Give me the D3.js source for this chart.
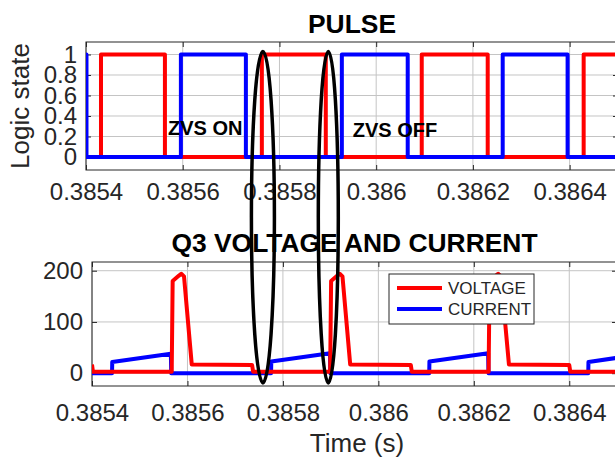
<!DOCTYPE html>
<html>
<head>
<meta charset="utf-8">
<script src="https://cdn.jsdelivr.net/npm/d3@7"></script>
<style>
body { margin: 0; background: #fff; }
text { font-family: "Liberation Sans", Arial, sans-serif; }
</style>
</head>
<body>
<div id="chart"></div>
<script>
/* tick values shared by both panels */
var timeTicks = [0.3854, 0.3856, 0.3858, 0.386, 0.3862, 0.3864];
var timeTickLabels = ["0.3854", "0.3856", "0.3858", "0.386", "0.3862", "0.3864"];
var logicTicks = [0, 0.2, 0.4, 0.6, 0.8, 1];
var logicTickLabels = ["0", "0.2", "0.4", "0.6", "0.8", "1"];
var vcTicks = [0, 100, 200];
var vcTickLabels = ["0", "100", "200"];

/* gate pulses (step after) */
var redPulseTime  = [0.38540, 0.385431, 0.3855632, 0.3857636, 0.3858958, 0.3860942, 0.3862306, 0.386429, 0.3866];
var redPulseState = [0, 1, 0, 1, 0, 1, 0, 1, 1];
var bluePulseTime  = [0.38538, 0.385401, 0.3855962, 0.3857306, 0.385929, 0.3860652, 0.3862616, 0.3863958, 0.3866];
var bluePulseState = [1, 0, 1, 0, 1, 0, 1, 0, 0];

/* Q3 voltage */
var voltTime = [0.38540, 0.385402,
    0.385567, 0.385569, 0.3855816, 0.385587, 0.3855928, 0.385609, 0.3857354, 0.3857376,
    0.385899, 0.385901, 0.3859136, 0.385919, 0.3859248, 0.385941, 0.386068, 0.38607,
    0.386231, 0.386233, 0.3862456, 0.386251, 0.3862568, 0.3862736, 0.3864, 0.386402,
    0.3866];
var voltVal = [17, 3,
    3, 180, 190, 194, 189, 17, 16, 3,
    3, 180, 190, 194, 189, 17, 16, 3,
    3, 180, 190, 194, 189, 17, 16, 3,
    3];

/* Q3 current */
var currTime = [0.38540, 0.385442, 0.3854424, 0.3855652, 0.385566,
    0.3857752, 0.3857756, 0.3858986, 0.3858994,
    0.3861066, 0.386107, 0.38623, 0.3862308,
    0.3864398, 0.3864402, 0.3865];
var currVal = [0, 0, 22, 38, 0,
    0, 23, 39, 0,
    0, 23, 39, 0,
    0, 22, 30];

var legendNames = ["VOLTAGE", "CURRENT"];

/* hand drawn annotations */
var zvsLabels = ["ZVS ON", "ZVS OFF"];
var zvsTime = [0.3855694, 0.3859516];
var zvsLevel = [0.215, 0.195];
var markTime = [0.3857658, 0.385901];
var markTopState = 1.03;   /* top panel value at ellipse top */
var markBottomVal = -19;   /* bottom panel value at ellipse bottom */

/* MAIN PROGRAM */
var width = 615, height = 461;
var textColor = "#262626";
var gridColor = "#c4c4c4";

var svg = d3.select("#chart").append("svg")
    .attr("width", width)
    .attr("height", height);

var panels = [
    { left: 86, right: 618, top: 42, bottom: 170, ydom: [-0.127, 1.122],
      yticks: logicTicks, ylabels: logicTickLabels, labPad: 13, title: "PULSE", titleY: 33 },
    { left: 92, right: 617, top: 262, bottom: 386, ydom: [-25, 217],
      yticks: vcTicks, ylabels: vcTickLabels, labPad: 18, title: "Q3 VOLTAGE AND CURRENT", titleY: 252 }
];

panels.forEach(function (p, k) {
    p.x = d3.scaleLinear().domain([0.3854, 0.3865]).range([p.left, p.right]);
    p.y = d3.scaleLinear().domain(p.ydom).range([p.bottom, p.top]);

    var g = svg.append("g").attr("class", "panel" + k);

    /* grid */
    g.selectAll(".gx").data(timeTicks).enter().append("line")
        .attr("x1", function (d) { return p.x(d); })
        .attr("x2", function (d) { return p.x(d); })
        .attr("y1", p.top).attr("y2", p.bottom)
        .attr("stroke", gridColor).attr("stroke-width", 1);
    g.selectAll(".gy").data(p.yticks).enter().append("line")
        .attr("x1", p.left).attr("x2", p.right)
        .attr("y1", function (d) { return p.y(d); })
        .attr("y2", function (d) { return p.y(d); })
        .attr("stroke", gridColor).attr("stroke-width", 1);

    /* axes, ticks inside */
    g.append("g")
        .attr("transform", "translate(0," + p.bottom + ")")
        .call(d3.axisBottom(p.x).tickValues(timeTicks)
            .tickFormat(function (d, i) { return timeTickLabels[i]; })
            .tickSize(-5).tickSizeOuter(0).tickPadding(p.labPad));
    g.append("g")
        .attr("transform", "translate(0," + p.top + ")")
        .call(d3.axisTop(p.x).tickValues(timeTicks).tickFormat("")
            .tickSize(-5).tickSizeOuter(0));
    g.append("g")
        .attr("transform", "translate(" + p.left + ",0)")
        .call(d3.axisLeft(p.y).tickValues(p.yticks)
            .tickFormat(function (d, i) { return p.ylabels[i]; })
            .tickSize(-5).tickSizeOuter(0).tickPadding(9));
    g.append("g")
        .attr("transform", "translate(" + p.right + ",0)")
        .call(d3.axisRight(p.y).tickValues(p.yticks).tickFormat("")
            .tickSize(-5).tickSizeOuter(0));

    g.selectAll(".domain").remove();
    g.selectAll(".tick line").attr("stroke", textColor);
    g.selectAll(".tick text")
        .attr("fill", textColor)
        .style("font-size", "24px");

    g.append("rect")
        .attr("x", p.left).attr("y", p.top)
        .attr("width", p.right - p.left).attr("height", p.bottom - p.top)
        .attr("fill", "none").attr("stroke", textColor).attr("stroke-width", 1);

    /* title */
    g.append("text")
        .attr("x", (p.left + p.right) / 2)
        .attr("y", p.titleY)
        .attr("text-anchor", "middle")
        .attr("fill", "#000")
        .style("font-size", "26.4px")
        .style("font-weight", "bold")
        .text(p.title);

    /* clip */
    svg.append("clipPath").attr("id", "clip" + k)
        .append("rect")
        .attr("x", p.left).attr("y", p.top)
        .attr("width", p.right - p.left).attr("height", p.bottom - p.top);
    p.plot = g.append("g").attr("clip-path", "url(#clip" + k + ")");
});

var pTop = panels[0], pBot = panels[1];

/* Logic state label */
svg.append("text")
    .attr("transform", "translate(29," + ((pTop.top + pTop.bottom) / 2) + ") rotate(-90)")
    .attr("text-anchor", "middle")
    .attr("fill", textColor)
    .style("font-size", "26px")
    .text("Logic state");

/* Time label */
svg.append("text")
    .attr("x", 357)
    .attr("y", 452)
    .attr("text-anchor", "middle")
    .attr("fill", textColor)
    .style("font-size", "26px")
    .text("Time (s)");

/* pulse traces */
function zip(t, v) { return t.map(function (d, i) { return [d, v[i]]; }); }

var stepLine = d3.line()
    .x(function (d) { return pTop.x(d[0]); })
    .y(function (d) { return pTop.y(d[1]); })
    .curve(d3.curveStepAfter);

pTop.plot.append("path")
    .datum(zip(redPulseTime, redPulseState))
    .attr("d", stepLine)
    .attr("fill", "none").attr("stroke", "#ff0000")
    .attr("stroke-width", 4).attr("stroke-linejoin", "round");
pTop.plot.append("path")
    .datum(zip(bluePulseTime, bluePulseState))
    .attr("d", stepLine)
    .attr("fill", "none").attr("stroke", "#0000ff")
    .attr("stroke-width", 4).attr("stroke-linejoin", "round");

/* voltage and current traces */
var vcLine = d3.line()
    .x(function (d) { return pBot.x(d[0]); })
    .y(function (d) { return pBot.y(d[1]); });

pBot.plot.append("path")
    .datum(zip(currTime, currVal))
    .attr("d", vcLine)
    .attr("fill", "none").attr("stroke", "#0000ff")
    .attr("stroke-width", 4).attr("stroke-linejoin", "round");
pBot.plot.append("path")
    .datum(zip(voltTime, voltVal))
    .attr("d", vcLine)
    .attr("fill", "none").attr("stroke", "#ff0000")
    .attr("stroke-width", 4).attr("stroke-linejoin", "round");

/* legend */
var legend = svg.append("g").attr("transform", "translate(389,274)");
legend.append("rect")
    .attr("width", 145).attr("height", 50)
    .attr("fill", "#fff").attr("stroke", textColor).attr("stroke-width", 1);
legendNames.forEach(function (name, i) {
    var ly = 14 + i * 21;
    legend.append("line")
        .attr("x1", 8).attr("x2", 53)
        .attr("y1", ly).attr("y2", ly)
        .attr("stroke", i === 0 ? "#ff0000" : "#0000ff")
        .attr("stroke-width", 4);
    legend.append("text")
        .attr("x", 59).attr("y", ly + 6)
        .attr("fill", textColor)
        .style("font-size", "17px")
        .text(name);
});

/* ZVS notes */
zvsLabels.forEach(function (lab, i) {
    svg.append("text")
        .attr("x", pTop.x(zvsTime[i]))
        .attr("y", pTop.y(zvsLevel[i]))
        .attr("fill", "#000")
        .style("font-size", "20px")
        .style("font-weight", "bold")
        .text(lab);
});

/* ellipses across both panels */
var markRx = [11.5, 10];
markTime.forEach(function (t, i) {
    var y0 = pTop.y(markTopState), y1 = pBot.y(markBottomVal);
    svg.append("ellipse")
        .attr("cx", pTop.x(t))
        .attr("cy", (y0 + y1) / 2)
        .attr("rx", markRx[i])
        .attr("ry", (y1 - y0) / 2)
        .attr("fill", "none")
        .attr("stroke", "#000")
        .attr("stroke-width", 3.5);
});
</script>
</body>
</html>
